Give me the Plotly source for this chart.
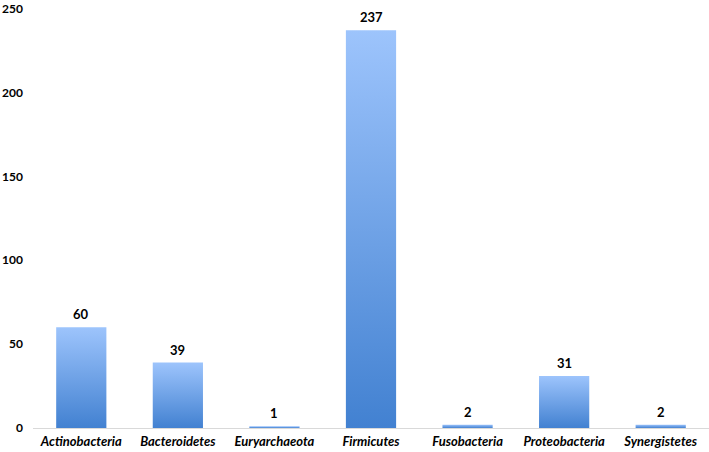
import plotly.graph_objects as go

phyla = ["Actinobacteria", "Bacteroidetes", "Euryarchaeota", "Firmicutes",
         "Fusobacteria", "Proteobacteria", "Synergistetes"]
counts = [60, 39, 1, 237, 2, 31, 2]
y_ticks = [0, 50, 100, 150, 200, 250]

half_width = 0.26
font_family = "Lato, 'Open Sans', sans-serif"

fig = go.Figure()

# bars drawn as filled polygons so each one can carry a vertical gradient
for i, v in enumerate(counts):
    fig.add_trace(go.Scatter(
        x=[i - half_width, i + half_width, i + half_width, i - half_width, i - half_width],
        y=[0, 0, v, v, 0],
        mode="lines",
        line=dict(width=0),
        fill="toself",
        fillgradient=dict(type="vertical",
                          colorscale=[[0, "#4281D1"], [1, "#9DC4FC"]]),
        hoverinfo="skip",
        showlegend=False,
    ))

# value labels above each bar
for i, v in enumerate(counts):
    fig.add_annotation(
        x=i, y=v, text="<b>" + str(v) + "</b>",
        showarrow=False, yanchor="bottom", yshift=3,
        font=dict(family=font_family, size=13, color="black"),
    )

fig.update_xaxes(
    range=[-0.5, len(phyla) - 0.5],
    tickvals=list(range(len(phyla))),
    ticktext=["<b><i>" + p + "</i></b>" for p in phyla],
    tickfont=dict(family=font_family, size=13, color="black"),
    showgrid=False, zeroline=False,
    showline=True, linecolor="#D9D9D9", linewidth=1,
    ticks="", automargin=False, ticklabelstandoff=1,
)
fig.update_yaxes(
    range=[0, 250.3],
    tickvals=y_ticks,
    tickfont=dict(family=font_family, size=12, color="black", weight="bold"),
    showgrid=False, zeroline=False, showline=False,
    ticks="", automargin=False, ticklabelstandoff=9,
    ticklabeloverflow="allow",
)
fig.update_layout(
    width=709, height=452,
    margin=dict(l=33, r=0, t=8, b=24),
    plot_bgcolor="white",
    paper_bgcolor="white",
)
fig.write_html("out.html", config={"displayModeBar": False},
               post_script="document.body.style.margin='0';")
